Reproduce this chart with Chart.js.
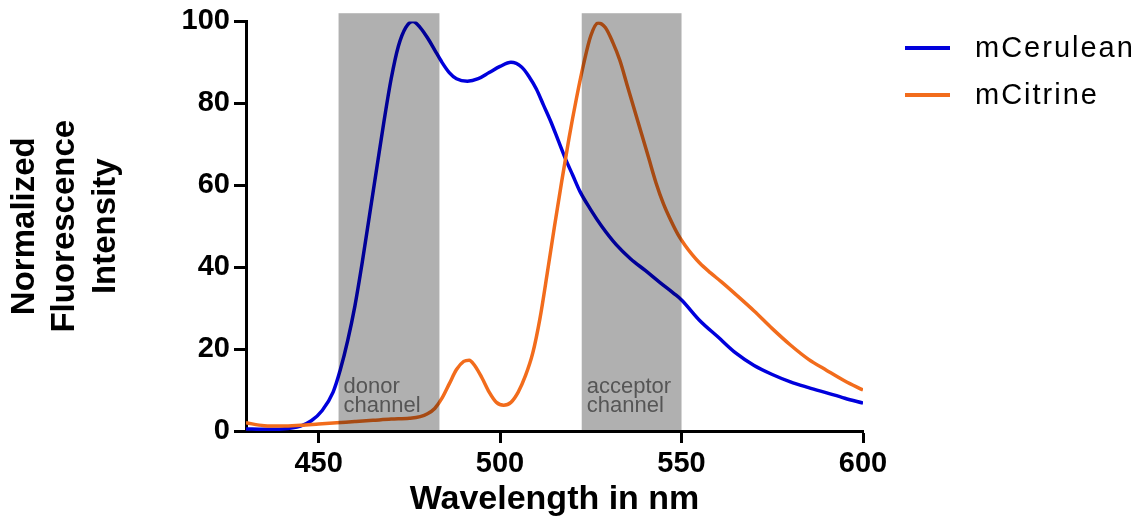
<!DOCTYPE html>
<html>
<head>
<meta charset="utf-8">
<title>mCerulean / mCitrine emission</title>
<script src="https://cdn.jsdelivr.net/npm/chart.js@4.4.0/dist/chart.umd.min.js"></script>
<style>
    html, body { margin: 0; padding: 0; background: #fff; }
    #wrap { width: 1145px; height: 529px; position: relative; }
</style>
</head>
<body>
<div id="wrap"><canvas id="chart"></canvas></div>
<script>
// Emission spectra (nm -> normalized intensity)
const ceruleanNm = [430, 435, 440, 445, 448, 451, 454, 456, 458, 460, 462, 464, 466, 468, 470, 472, 474, 476, 478, 480,
    482, 484, 486, 488, 491, 494, 497, 500, 503, 506, 508, 510, 512, 514, 516, 518, 520, 522, 525, 528,
    532, 536, 540, 544, 548, 550, 555, 560, 565, 570, 575, 580, 585, 590, 595, 600];
const ceruleanVal = [0.5, 0.4, 0.5, 1.2, 2.5, 5, 9.5, 15, 22, 30.5, 41, 52.5, 64, 75.5, 86, 94, 98.5, 100, 98.5, 96,
    93, 90, 87.5, 86, 85.4, 86, 87.5, 89, 90, 88.8, 86.5, 83.5, 79.5, 75.5, 71, 66.5, 62.5, 58.5, 54, 50,
    45.5, 42, 39.2, 36.3, 33.5, 32, 27, 23, 19, 16, 13.8, 12, 10.6, 9.3, 8, 6.8];

const citrineNm = [430, 435, 440, 445, 450, 455, 460, 465, 470, 475, 478, 480, 482, 484, 486, 488, 490, 491.5, 493, 495,
    497, 499, 501, 503, 505, 507, 509, 511, 513, 515, 517, 519, 521, 523, 525, 527, 529, 531, 533, 535,
    537, 539, 541, 543, 545, 547, 549, 551, 553, 555, 558, 561, 565, 570, 575, 580, 585, 590, 595, 600];
const citrineVal = [2.0, 1.3, 1.2, 1.4, 1.7, 2.0, 2.3, 2.6, 2.9, 3.1, 3.5, 4.2, 5.5, 8, 11.5, 15, 17, 17.3, 16, 13,
    9.5, 7, 6.3, 7, 9.5, 13.5, 19, 27.5, 38.5, 50, 61, 71.5, 81, 89.5, 96.5, 99.6, 98.5, 95, 90.5, 84.5,
    78.5, 72.5, 66.5, 60.5, 55.5, 51.5, 48, 45.3, 43, 41, 38.6, 36.4, 33.3, 29.3, 25, 21, 17.5, 14.8, 12.2, 10];

const seriesNames = ['mCerulean', 'mCitrine'];
const seriesColors = ['#0000dc', '#f26c1c'];

// detection channels (shaded bands)
const bandStart = [455.5, 522.5];
const bandEnd = [483.3, 550];
const bandTop = 102;
const bandLabels = [['donor', 'channel'], ['acceptor', 'channel']];

const xTicks = [450, 500, 550, 600];

const FONT = '"Liberation Sans", Arial, Helvetica, sans-serif';

function toPoints(xs, ys) {
    return xs.map((v, i) => ({ x: v, y: ys[i] }));
}

const channelPlugin = {
    id: 'channels',
    afterDatasetsDraw(chart) {
        const { ctx, chartArea, scales } = chart;
        const top = scales.y.getPixelForValue(bandTop);
        ctx.save();
        bandStart.forEach((start, i) => {
            const left = scales.x.getPixelForValue(start);
            const right = scales.x.getPixelForValue(bandEnd[i]);
            ctx.fillStyle = 'rgba(0, 0, 0, 0.31)';
            ctx.fillRect(left, top, right - left, chartArea.bottom - top);
            ctx.fillStyle = '#555';
            ctx.font = '22px ' + FONT;
            ctx.textAlign = 'left';
            ctx.textBaseline = 'alphabetic';
            bandLabels[i].forEach((line, j) => {
                ctx.fillText(line, left + 5, chartArea.bottom - 38 + j * 19);
            });
        });
        ctx.restore();
    }
};

const legendPlugin = {
    id: 'sideLegend',
    afterDraw(chart) {
        const { ctx } = chart;
        const rows = [48, 95];
        ctx.save();
        seriesNames.forEach((name, i) => {
            ctx.strokeStyle = seriesColors[i];
            ctx.lineWidth = 4;
            ctx.beginPath();
            ctx.moveTo(905, rows[i]);
            ctx.lineTo(950, rows[i]);
            ctx.stroke();
            ctx.fillStyle = '#000';
            ctx.font = '29px ' + FONT;
            ctx.textAlign = 'left';
            ctx.textBaseline = 'middle';
            if ('letterSpacing' in ctx) ctx.letterSpacing = '2px';
            ctx.fillText(name, 975, rows[i] + 1);
        });
        ctx.restore();
    }
};

const ctx = document.getElementById('chart').getContext('2d');

new Chart(ctx, {
    type: 'line',
    data: {
        datasets: [{
            label: seriesNames[0],
            data: toPoints(ceruleanNm, ceruleanVal),
            borderColor: seriesColors[0],
            backgroundColor: seriesColors[0],
            borderWidth: 3.5,
            pointRadius: 0,
            cubicInterpolationMode: 'monotone',
            order: 1
        }, {
            label: seriesNames[1],
            data: toPoints(citrineNm, citrineVal),
            borderColor: seriesColors[1],
            backgroundColor: seriesColors[1],
            borderWidth: 3.5,
            pointRadius: 0,
            cubicInterpolationMode: 'monotone',
            order: 0
        }]
    },
    options: {
        responsive: true,
        maintainAspectRatio: false,
        animation: false,
        layout: {
            padding: { top: 20, right: 282, bottom: 0, left: 0 }
        },
        plugins: {
            legend: { display: false },
            tooltip: { enabled: false }
        },
        scales: {
            x: {
                type: 'linear',
                min: 430,
                max: 600,
                afterBuildTicks: scale => {
                    scale.ticks = xTicks.map(v => ({ value: v }));
                },
                afterFit: scale => { scale.height = 98; },
                grid: {
                    drawOnChartArea: false,
                    tickLength: 12,
                    tickWidth: 3,
                    tickColor: '#000'
                },
                border: { display: true, width: 3, color: '#000' },
                ticks: {
                    padding: 4,
                    color: '#000',
                    font: { family: FONT, size: 29, weight: 'bold' }
                },
                title: {
                    display: true,
                    text: 'Wavelength in nm',
                    color: '#000',
                    font: { family: FONT, size: 34, weight: 'bold', lineHeight: 1.2 },
                    padding: { top: 0, bottom: 9 }
                }
            },
            y: {
                min: 0,
                max: 100,
                afterFit: scale => { scale.width = 246; },
                grid: {
                    drawOnChartArea: false,
                    tickLength: 12,
                    tickWidth: 3,
                    tickColor: '#000'
                },
                border: { display: true, width: 3, color: '#000' },
                ticks: {
                    stepSize: 20,
                    padding: 4,
                    color: '#000',
                    font: { family: FONT, size: 29, weight: 'bold' }
                },
                title: {
                    display: true,
                    text: ['Normalized', 'Fluorescence', 'Intensity'],
                    color: '#000',
                    font: { family: FONT, size: 33, weight: 'bold', lineHeight: 1.24 },
                    padding: { top: 4, bottom: 0 }
                }
            }
        }
    },
    plugins: [channelPlugin, legendPlugin]
});
</script>
</body>
</html>
